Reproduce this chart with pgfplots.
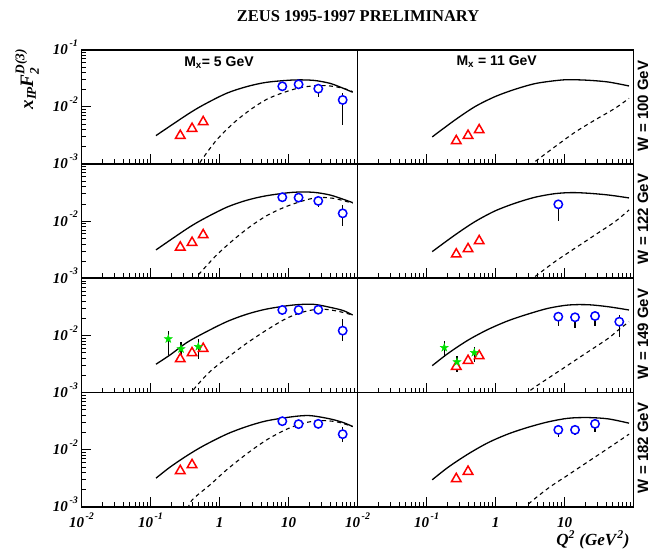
\documentclass[border=0pt]{standalone}
\usepackage{fontspec}
\setmainfont{Liberation Serif}
\setsansfont{Liberation Sans}
\usepackage{amsmath}
\usepackage{pgfplots}
\pgfplotsset{compat=1.18}
\usetikzlibrary{plotmarks}
\definecolor{rred}{RGB}{255,0,0}
\definecolor{rblue}{RGB}{0,0,255}
\definecolor{rgreen}{RGB}{0,225,0}
\pgfdeclareplotmark{fivestar}{%
  \pgfpathmoveto{\pgfpoint{0pt}{\pgfplotmarksize}}%
  \pgfpathlineto{\pgfpoint{-0.235\pgfplotmarksize}{0.324\pgfplotmarksize}}%
  \pgfpathlineto{\pgfpoint{-0.951\pgfplotmarksize}{0.309\pgfplotmarksize}}%
  \pgfpathlineto{\pgfpoint{-0.380\pgfplotmarksize}{-0.124\pgfplotmarksize}}%
  \pgfpathlineto{\pgfpoint{-0.588\pgfplotmarksize}{-0.809\pgfplotmarksize}}%
  \pgfpathlineto{\pgfpoint{0pt}{-0.4\pgfplotmarksize}}%
  \pgfpathlineto{\pgfpoint{0.588\pgfplotmarksize}{-0.809\pgfplotmarksize}}%
  \pgfpathlineto{\pgfpoint{0.380\pgfplotmarksize}{-0.124\pgfplotmarksize}}%
  \pgfpathlineto{\pgfpoint{0.951\pgfplotmarksize}{0.309\pgfplotmarksize}}%
  \pgfpathlineto{\pgfpoint{0.235\pgfplotmarksize}{0.324\pgfplotmarksize}}%
  \pgfpathclose
  \pgfusepathqfillstroke}
\newcommand\bi[1]{\textbf{\textit{#1}}}
\newcommand\tlab[2]{\bi{#1}\smash{\raisebox{0.55em}{\fontsize{10}{10}\selectfont\bi{\,#2}}}}
% error bars first, marks on top (same numbers)
\newcommand\eplot[2]{\addplot[zerr] coordinates {#2};\addplot[#1] coordinates {#2};}
\pgfplotsset{
  zpanel/.style={
    anchor=north west, scale only axis, width=276pt, height=114.3pt,
    xmin=0.01, xmax=100, ymin=0.001, ymax=0.1,
    axis line style={line width=1.7pt},
    every tick/.style={black, line width=0.8pt},
    tick align=inside, xtick pos=bottom, ytick pos=left,
    major tick length=10pt, minor tick length=5pt,
    xtick={0.01,0.1,1,10,100},
    minor xtick={0.02,0.03,0.04,0.05,0.06,0.07,0.08,0.09,0.2,0.3,0.4,0.5,0.6,0.7,0.8,0.9,2,3,4,5,6,7,8,9,20,30,40,50,60,70,80,90},
    xticklabels={{},{},{},{},{}},
    ticklabel style={font=\fontsize{15}{15}\selectfont},
    xticklabel style={yshift=-7pt},
    clip=true,
  },
  zleft/.style={ytick={0.001,0.01,0.1},
    minor ytick={0.002,0.003,0.004,0.005,0.006,0.007,0.008,0.009,0.02,0.03,0.04,0.05,0.06,0.07,0.08,0.09}},
  zright/.style={ytick=\empty},
  zsolid/.style={black, line width=1.3pt, smooth, no marks, solid},
  zdash/.style={black, line width=1.1pt, smooth, no marks, dash pattern=on 4pt off 3.5pt},
  ztri/.style={only marks, mark=triangle*, mark size=5.5pt, line width=1.5pt,
    mark options={draw=rred, fill=white, solid}},
  zcirc/.style={only marks, mark=*, mark size=4.2pt, line width=1.5pt,
    mark options={draw=rblue, fill=white, solid}},
  zgrn/.style={only marks, mark=fivestar, mark size=4.2pt,
    mark options={draw=rgreen, fill=rgreen, solid, line width=0.4pt}},
  zerr/.style={only marks, mark=*, mark size=0pt, mark options={draw=none, fill=none},
    error bars/y dir=both, error bars/y explicit, error bars/error mark=none,
    error bars/error bar style={black, line width=1.5pt, solid}},
}
\begin{document}
\begin{tikzpicture}
\path[use as bounding box] (0pt,0pt) rectangle (655pt,-550pt);
% ---------------- Row 1 : W = 100 GeV
\begin{loglogaxis}[zpanel, zleft, at={(81.5pt,-49.7pt)},
  yticklabels={\tlab{10}{-3},\tlab{10}{-2},\tlab{10}{-1}}]
\addplot[zsolid] coordinates {(0.120,0.00314) (0.334,0.00721) (0.583,0.0108) (1.27,0.0173) (2.48,0.0226) (4.83,0.0269) (11.7,0.0295) (22.9,0.0291) (39.9,0.0258) (62.4,0.0211) (85.1,0.0180)};
\addplot[zdash] coordinates {(0.40,0.00063) (0.552,0.00118) (0.910,0.00264) (1.585,0.00516) (2.77,0.00883) (4.83,0.01355) (8.41,0.01774) (14.7,0.02168) (25.6,0.0235) (39.9,0.0232) (62.4,0.0211) (85.1,0.01845)};
\addplot[ztri] coordinates {(0.27,0.00314) (0.40,0.00416) (0.58,0.00545)};
\eplot{zcirc}{(8.13,0.0229) += (0,0.001) -= (0,0.0032) (14.0,0.0248) += (0,0.001) -= (0,0.0015) (27,0.0208) += (0,0.001) -= (0,0.0057) (61,0.0132) += (0,0.0041) -= (0,0.0084)}
\end{loglogaxis}
\begin{loglogaxis}[zpanel, zright, at={(357.5pt,-49.7pt)}]
\addplot[zsolid] coordinates {(0.121,0.00298) (0.259,0.0059) (0.505,0.0101) (0.984,0.0151) (1.92,0.0203) (3.73,0.0255) (7.28,0.0287) (11.35,0.0299) (22.1,0.0292) (43.2,0.0272) (86.1,0.0232)};
\addplot[zdash] coordinates {(2.51,0.00079) (3.73,0.0011) (7.28,0.00201) (14.2,0.0036) (27.7,0.0059) (54.0,0.00944) (86.1,0.0141)};
\addplot[ztri] coordinates {(0.27,0.00254) (0.40,0.00314) (0.58,0.00394)};
\end{loglogaxis}
% ---------------- Row 2 : W = 122 GeV
\begin{loglogaxis}[zpanel, zleft, at={(81.5pt,-164pt)},
  yticklabels={\tlab{10}{-3},\tlab{10}{-2},{}}]
\addplot[zsolid] coordinates {(0.120,0.00314) (0.334,0.00731) (0.583,0.0109) (1.27,0.0175) (2.48,0.0232) (4.83,0.0279) (11.7,0.0320) (22.9,0.0320) (39.9,0.0287) (62.4,0.0241) (85.1,0.0211)};
\addplot[zdash] coordinates {(0.355,0.00074) (0.493,0.00115) (0.910,0.00256) (1.585,0.00469) (2.77,0.00802) (4.83,0.01247) (8.41,0.0172) (14.7,0.0219) (25.6,0.0258) (44.6,0.0251) (85.1,0.0206)};
\addplot[ztri] coordinates {(0.27,0.00349) (0.40,0.00421) (0.58,0.00574)};
\eplot{zcirc}{(8.13,0.0262) += (0,0.0015) -= (0,0.0015) (14.0,0.0258) += (0,0.0015) -= (0,0.0015) (27,0.0226) += (0,0.001) -= (0,0.0047) (61,0.0137) += (0,0.0055) -= (0,0.0054)}
\end{loglogaxis}
\begin{loglogaxis}[zpanel, zright, at={(357.5pt,-164pt)}]
\addplot[zsolid] coordinates {(0.121,0.00293) (0.259,0.00574) (0.505,0.00982) (0.984,0.0151) (1.92,0.0206) (3.73,0.0262) (7.28,0.0303) (12.7,0.0316) (22.1,0.0308) (43.2,0.0287) (86.1,0.0255)};
\addplot[zdash] coordinates {(2.51,0.00075) (3.73,0.00107) (7.28,0.00196) (14.2,0.00336) (27.7,0.00574) (54.0,0.00982) (86.1,0.0157)};
\addplot[ztri] coordinates {(0.27,0.00264) (0.40,0.00327) (0.58,0.00451)};
\eplot{zcirc}{(8.13,0.0197) += (0,0.002) -= (0,0.0097)}
\end{loglogaxis}
% ---------------- Row 3 : W = 149 GeV
\begin{loglogaxis}[zpanel, zleft, at={(81.5pt,-278.3pt)},
  yticklabels={\tlab{10}{-3},\tlab{10}{-2},{}}]
\addplot[zsolid] coordinates {(0.120,0.00314) (0.192,0.00456) (0.334,0.00748) (0.583,0.0109) (1.27,0.0174) (2.48,0.0235) (4.83,0.0290) (11.7,0.0341) (22.9,0.0351) (39.9,0.0311) (62.4,0.0272) (85.1,0.0228)};
\addplot[zdash] coordinates {(0.34,0.00065) (0.417,0.00111) (0.728,0.00233) (1.27,0.00399) (2.48,0.00731) (4.83,0.01247) (9.42,0.0200) (16.4,0.0258) (28.6,0.0290) (50.0,0.0268) (85.1,0.0228)};
\addplot[ztri] coordinates {(0.27,0.00388) (0.40,0.00494) (0.58,0.00587)};
\eplot{zgrn}{(0.181,0.00869) += (0,0.00344) -= (0,0.00413) (0.277,0.00581) += (0,0.00179) -= (0,0.00233) (0.493,0.00637) += (0,0.00222) -= (0,0.00253)}
\eplot{zcirc}{(8.13,0.0279) += (0,0.001) -= (0,0.001) (14.0,0.0279) += (0,0.001) -= (0,0.001) (27,0.0282) += (0,0.001) -= (0,0.001) (61,0.01213) += (0,0.0073) -= (0,0.0040)}
\end{loglogaxis}
\begin{loglogaxis}[zpanel, zright, at={(357.5pt,-278.3pt)}]
\addplot[zsolid] coordinates {(0.121,0.00296) (0.207,0.00489) (0.404,0.00834) (0.787,0.01282) (1.535,0.01815) (2.99,0.02377) (5.82,0.0299) (11.35,0.0341) (22.1,0.0345) (43.2,0.0318) (86.1,0.0279)};
\addplot[zdash] coordinates {(2.3,0.0007) (3.16,0.00108) (5.82,0.00179) (11.35,0.00305) (22.1,0.00521) (43.2,0.00893) (60.3,0.01247) (86.1,0.0174)};
\addplot[ztri] coordinates {(0.27,0.00285) (0.40,0.00362) (0.58,0.00438)};
\eplot{zgrn}{(0.181,0.00612) += (0,0.0019) -= (0,0.00196) (0.277,0.00344) += (0,0.00094) -= (0,0.00111) (0.493,0.0050) += (0,0.00122) -= (0,0.00152)}
\eplot{zcirc}{(8.13,0.0213) += (0,0.001) -= (0,0.0066) (14.2,0.0208) += (0,0.001) -= (0,0.0074) (27.7,0.0219) += (0,0.001) -= (0,0.0071) (62.2,0.0174) += (0,0.0054) -= (0,0.0079)}
\end{loglogaxis}
% ---------------- Row 4 : W = 182 GeV
\begin{loglogaxis}[zpanel, zleft, at={(81.5pt,-392.6pt)},
  yticklabels={\tlab{10}{-3},\tlab{10}{-2},{}},
  xticklabels={\tlab{10}{-2},\tlab{10}{-1},\bi{1},\bi{10},{}}]
\addplot[zsolid] coordinates {(0.120,0.00318) (0.192,0.00497) (0.334,0.00782) (0.583,0.0117) (1.27,0.01875) (2.48,0.0255) (4.83,0.0321) (11.7,0.0380) (20.5,0.0396) (39.9,0.0347) (62.4,0.0299) (85.1,0.0255)};
\addplot[zdash] coordinates {(0.32,0.0007) (0.395,0.00129) (0.728,0.00243) (1.27,0.00446) (2.48,0.00848) (4.83,0.0149) (9.42,0.0229) (16.4,0.0292) (28.6,0.0324) (50.0,0.0308) (85.1,0.0255)};
\addplot[ztri] coordinates {(0.27,0.00428) (0.40,0.00545)};
\eplot{zcirc}{(8.13,0.0316) += (0,0.001) -= (0,0.001) (14.0,0.0281) += (0,0.002) -= (0,0.002) (27,0.0284) += (0,0.002) -= (0,0.002) (61,0.01875) += (0,0.006) -= (0,0.0048)}
\end{loglogaxis}
\begin{loglogaxis}[zpanel, zright, at={(357.5pt,-392.6pt)},
  xticklabels={\tlab{10}{-2},\tlab{10}{-1},\bi{1},\bi{10},{}}]
\addplot[zsolid] coordinates {(0.121,0.00298) (0.207,0.00497) (0.404,0.00848) (0.787,0.01337) (1.535,0.01897) (2.99,0.0248) (5.82,0.0308) (11.35,0.0356) (22.1,0.0366) (43.2,0.0347) (86.1,0.0292)};
\addplot[zdash] coordinates {(2.2,0.0007) (2.74,0.00102) (5.82,0.00213) (11.35,0.00364) (22.1,0.00622) (43.2,0.01067) (86.1,0.01875)};
\addplot[ztri] coordinates {(0.27,0.0031) (0.40,0.00416)};
\eplot{zcirc}{(8.13,0.0223) += (0,0.001) -= (0,0.0057) (14.2,0.0223) += (0,0.001) -= (0,0.0041) (27.7,0.0284) += (0,0.001) -= (0,0.0076)}
\end{loglogaxis}
% ---------------- Texts
\node at (358pt,-15.9pt) {\fontsize{16.5}{16.5}\selectfont\bfseries ZEUS 1995-1997 PRELIMINARY};
\node[anchor=base] at (219pt,-66pt) {\sffamily\bfseries\fontsize{14}{14}\selectfont M\textsubscript{x}= 5 GeV};
\node[anchor=base] at (496.7pt,-65pt) {\sffamily\bfseries\fontsize{14}{14}\selectfont M\textsubscript{x} = 11 GeV};
\node[anchor=base, rotate=90] at (648pt,-106pt) {\sffamily\bfseries\fontsize{15}{15}\selectfont W = 100 GeV};
\node[anchor=base, rotate=90] at (648pt,-219pt) {\sffamily\bfseries\fontsize{15}{15}\selectfont W = 122 GeV};
\node[anchor=base, rotate=90] at (648pt,-334pt) {\sffamily\bfseries\fontsize{15}{15}\selectfont W = 149 GeV};
\node[anchor=base, rotate=90] at (648pt,-448pt) {\sffamily\bfseries\fontsize{15}{15}\selectfont W = 182 GeV};
\node[rotate=90] at (27pt,-79pt) {\fontsize{19}{19}\selectfont\bi{x}$_{\bi{I\kern-0.12em P}}$\bi{F}$_{\bi{2}}^{\bi{D(3)}}$};
\node[anchor=base east] at (633pt,-545pt) {\fontsize{17}{17}\selectfont\bi{Q}$^{\bi{2}}$\bi{ (GeV}$^{\bi{2}}$\bi{)}};
\end{tikzpicture}
\end{document}
